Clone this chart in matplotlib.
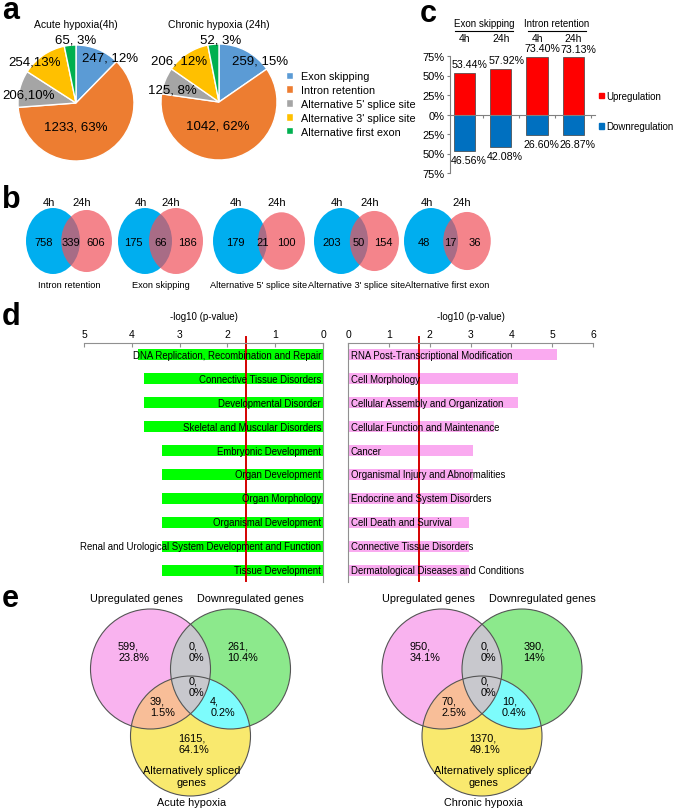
import numpy as np
import matplotlib
matplotlib.use('Agg')
import matplotlib.pyplot as plt
from matplotlib.patches import Ellipse, Circle, Patch

plt.rcParams['font.family'] = ['Liberation Sans', 'DejaVu Sans']

W, H = 675, 812

# ---- data ----
# a: splicing events per type
splice_types = ['Exon skipping', 'Intron retention', "Alternative 5' splice site",
                "Alternative 3' splice site", 'Alternative first exon']
acute_counts = [247, 1233, 206, 254, 65]
chronic_counts = [259, 1042, 125, 206, 52]
acute_labels = ['247, 12%', '1233, 63%', '206,10%', '254,13%', '65, 3%']
chronic_labels = ['259, 15%', '1042, 62%', '125, 8%', '206, 12%', '52, 3%']
pie_titles = ['Acute hypoxia(4h)', 'Chronic hypoxia (24h)']

# b: overlap 4h / 24h
venn_names = ['Intron retention', 'Exon skipping', "Alternative 5' splice site",
              "Alternative 3' splice site", 'Alternative first exon']
only_4h = [758, 175, 179, 203, 48]
shared = [339, 66, 21, 50, 17]
only_24h = [606, 186, 100, 154, 36]

# c: up / down regulation
c_groups = ['Exon skipping', 'Intron retention']
c_times = ['4h', '24h', '4h', '24h']
up_pct = [53.44, 57.92, 73.40, 73.13]
down_pct = [46.56, 42.08, 26.60, 26.87]

# d: enriched functions
acute_terms = ['DNA Replication, Recombination and Repair', 'Connective Tissue Disorders',
               'Developmental Disorder', 'Skeletal and Muscular Disorders',
               'Embryonic Development', 'Organ Development', 'Organ Morphology',
               'Organismal Development', 'Renal and Urological System Development and Function',
               'Tissue Development']
acute_logp = [3.88, 3.75, 3.75, 3.75, 3.37, 3.37, 3.37, 3.37, 3.37, 3.37]
chronic_terms = ['RNA Post-Transcriptional Modification', 'Cell Morphology',
                 'Cellular Assembly and Organization', 'Cellular Function and Maintenance',
                 'Cancer', 'Organismal Injury and Abnormalities', 'Endocrine and System Disorders',
                 'Cell Death and Survival', 'Connective Tissue Disorders',
                 'Dermatological Diseases and Conditions']
chronic_logp = [5.12, 4.16, 4.16, 3.58, 3.07, 3.07, 2.99, 2.97, 2.97, 2.97]
acute_cutoff = 1.62
chronic_cutoff = 1.73

# e: regulated vs spliced genes
e_titles = ['Acute hypoxia', 'Chronic hypoxia']
up_only = [599, 950]
up_down = [0, 0]
down_only = [261, 390]
all_three = [0, 0]
up_spliced = [39, 70]
down_spliced = [4, 10]
spliced_only = [1615, 1370]

# ---- layout helpers ----
fig = plt.figure(figsize=(W / 100, H / 100), dpi=100)


def px_axes(l, t, w, h):
    return fig.add_axes([l / W, 1 - (t + h) / H, w / W, h / H])


canvas = fig.add_axes([0, 0, 1, 1])
canvas.set_xlim(0, W)
canvas.set_ylim(H, 0)
canvas.axis('off')

letter_kw = dict(fontsize=22, fontweight='bold', va='baseline', ha='left')
for letter, x, y in [('a', 2, 19), ('b', 2, 208), ('c', 420, 22), ('d', 2, 325), ('e', 2, 607)]:
    canvas.text(x, y, letter, **letter_kw)

# ---- a: pies ----
pie_colors = ['#5B9BD5', '#ED7D31', '#A5A5A5', '#FFC000', '#00B050']
pie_centers = [(76, 104), (219, 103)]
pie_r = 58
lim = 1.2
label_pos = [
    [(0.59, 0.78), (0.0, -0.40), (-0.81, 0.14), (-0.71, 0.71), (0.0, 1.09)],
    [(0.71, 0.71), (-0.03, -0.40), (-0.81, 0.22), (-0.69, 0.71), (0.03, 1.07)],
]
wedges = None
for k, (counts, labels, title) in enumerate(zip([acute_counts, chronic_counts],
                                               [acute_labels, chronic_labels], pie_titles)):
    cx, cy = pie_centers[k]
    ax = px_axes(cx - lim * pie_r, cy - lim * pie_r, 2 * lim * pie_r, 2 * lim * pie_r)
    w, _ = ax.pie(counts, colors=pie_colors, startangle=90, counterclock=False,
                  wedgeprops=dict(edgecolor='white', linewidth=1))
    if wedges is None:
        wedges = w
    ax.set_xlim(-lim, lim)
    ax.set_ylim(-lim, lim)
    for lab, (lx, ly) in zip(labels, label_pos[k]):
        ax.text(lx, ly, lab, ha='center', va='center', fontsize=9.5, clip_on=False)
    canvas.text(cx, 25, title, ha='center', va='center', fontsize=7.5)

fig.legend(wedges, splice_types, loc='upper left', bbox_to_anchor=(286 / W, 1 - 72 / H),
           frameon=False, fontsize=7.8, handlelength=0.65, handleheight=0.65,
           labelspacing=0.36, handletextpad=0.75, borderpad=0, borderaxespad=0)

# ---- b: two-set venns ----
blue_x = [53, 145, 240, 341, 431]
pink_x = [86.6, 176, 281.5, 374.4, 467]
pink_scale = [0.94, 1.0, 0.87, 0.91, 0.88]
vy = 242
rx, ry = 27, 33
for i in range(5):
    prx, pry = rx * pink_scale[i], ry * pink_scale[i]
    canvas.add_patch(Ellipse((blue_x[i], vy), 2 * rx, 2 * ry, color='#00AEEF', lw=0))
    canvas.add_patch(Ellipse((pink_x[i], vy), 2 * prx, 2 * pry, color='#F0505A', alpha=0.7, lw=0))
    bl, br = blue_x[i] - rx, blue_x[i] + rx
    pl, pr = pink_x[i] - prx, pink_x[i] + prx
    canvas.text((bl + pl) / 2, vy + 1, str(only_4h[i]), ha='center', va='center', fontsize=8)
    canvas.text((pl + br) / 2, vy + 1, str(shared[i]), ha='center', va='center', fontsize=8)
    canvas.text((br + pr) / 2, vy + 1, str(only_24h[i]), ha='center', va='center', fontsize=8)
    canvas.text(blue_x[i] - 4, 203, '4h', ha='center', va='center', fontsize=8)
    canvas.text(pink_x[i] - 5, 203, '24h', ha='center', va='center', fontsize=8)
    canvas.text((bl + pr) / 2, 286, venn_names[i], ha='center', va='center', fontsize=6.7)

# ---- c: up/down bars ----
axc = px_axes(450, 57, 145, 117)
xc = np.arange(4)
axc.bar(xc, up_pct, width=0.58, color='#FF0000', edgecolor='#404040', linewidth=0.5)
axc.bar(xc, [-v for v in down_pct], width=0.58, color='#0070C0', edgecolor='#404040', linewidth=0.5)
axc.set_xlim(-0.4, 3.6)
axc.set_ylim(-75, 75)
axc.set_yticks([-75, -50, -25, 0, 25, 50, 75])
axc.set_yticklabels(['75%', '50%', '25%', '0%', '25%', '50%', '75%'], fontsize=8)
axc.spines['top'].set_visible(False)
axc.spines['right'].set_visible(False)
axc.spines['left'].set_color('gray')
axc.spines['bottom'].set_position(('data', 0))
axc.spines['bottom'].set_color('gray')
axc.set_xticks([0.5, 1.5, 2.5, 3.5])
axc.set_xticklabels([])
axc.tick_params(axis='x', direction='out', length=2, color='gray')
axc.tick_params(axis='y', direction='out', length=2, color='gray', pad=2)
for i in range(4):
    axc.text(xc[i] + 0.15, up_pct[i] + 5, f'{up_pct[i]:.2f}%', ha='center', va='bottom',
             fontsize=7.7, clip_on=False)
    axc.text(xc[i] + 0.12, -down_pct[i] - 5, f'{down_pct[i]:.2f}%', ha='center', va='top',
             fontsize=7.7, clip_on=False)
    axc.text(xc[i], 98, c_times[i], ha='center', va='center', fontsize=7.5, clip_on=False)
for g, name in enumerate(c_groups):
    gx = 2 * g + 0.55
    axc.text(gx, 117, name, ha='center', va='center', fontsize=7, clip_on=False)
    axc.plot([gx - 0.8, gx + 0.8], [107, 107], color='black', lw=0.8, clip_on=False)

fig.legend([Patch(color='#FF0000'), Patch(color='#0070C0')], ['Upregulation', 'Downregulation'],
           loc='upper left', bbox_to_anchor=(599 / W, 1 - 92 / H), frameon=False, fontsize=7,
           handlelength=0.55, handleheight=0.55, labelspacing=2.1, handletextpad=0.2,
           borderpad=0, borderaxespad=0)

# ---- d: enrichment bars ----
axl = px_axes(84, 344, 239, 239)
axr = px_axes(348, 344, 245, 239)
rows = np.arange(10)
axl.barh(rows, acute_logp, height=0.46, color='#00FF00')
axr.barh(rows, chronic_logp, height=0.46, color='#FAAAF0')
axl.set_xlim(5, 0)
axr.set_xlim(0, 6)
for ax, keep in [(axl, ['top', 'right']), (axr, ['top', 'left'])]:
    ax.set_ylim(9.5, -0.5)
    for s in ['top', 'bottom', 'left', 'right']:
        ax.spines[s].set_visible(s in keep)
        ax.spines[s].set_color('#909090')
    ax.xaxis.tick_top()
    ax.tick_params(axis='x', direction='in', length=3, color='#909090', labelsize=7.5, pad=3)
    ax.set_yticks([])
    ax.patch.set_alpha(0)
    ax.text(0.5, 1.113, '-log10 (p-value)', transform=ax.transAxes, ha='center', va='center', fontsize=7)
axl.set_xticks([5, 4, 3, 2, 1, 0])
axr.set_xticks([0, 1, 2, 3, 4, 5, 6])
for i in rows:
    axl.text(0.04, i, acute_terms[i], ha='right', va='center', fontsize=6.9)
    axr.text(0.07, i, chronic_terms[i], ha='left', va='center', fontsize=6.9)
axl.plot([acute_cutoff] * 2, [-0.75, 9.45], color='#D40000', lw=1.4, clip_on=False)
axr.plot([chronic_cutoff] * 2, [-0.75, 9.45], color='#D40000', lw=1.4, clip_on=False)

# ---- e: three-set venns ----
venn_mid = [190.5, 482]
col_pink, col_green, col_yellow = '#F9B3EF', '#8CE98C', '#F9E96E'
col_peach, col_cyan, col_gray = '#F8BE98', '#7DFCFC', '#C8C8CD'
r = 60


def pct(v, tot):
    return f'{round(100 * v / tot, 1):g}%'


for k in range(2):
    mx = venn_mid[k]
    cp, cg, cy_ = (mx - 40, 670), (mx + 40, 670), (mx, 737)
    for c, col in [(cp, col_pink), (cg, col_green), (cy_, col_yellow)]:
        canvas.add_patch(Circle(c, r, color=col, lw=0))
    for base, clip, col in [(cp, cy_, col_peach), (cg, cy_, col_cyan), (cp, cg, col_gray)]:
        patch = Circle(base, r, color=col, lw=0)
        canvas.add_patch(patch)
        patch.set_clip_path(Circle(clip, r, transform=canvas.transData))
    for c in [cp, cg, cy_]:
        canvas.add_patch(Circle(c, r, fill=False, edgecolor='#555555', lw=0.8))

    vals = [up_only[k], up_down[k], down_only[k], all_three[k],
            up_spliced[k], down_spliced[k], spliced_only[k]]
    tot = sum(vals)
    offs = [(-57, -18), (6, -18), (52, -18), (6, 17), (-28, 37.5), (32, 37.5), (3, 74)]
    for v, (dx, dy) in zip(vals, offs):
        canvas.text(mx + dx, 670 + dy, f'{v},\n{pct(v, tot)}', ha='center', va='center',
                    multialignment='left', fontsize=7.8, linespacing=1.15)
    canvas.text(mx + 1, 777, 'Alternatively spliced\ngenes', ha='center', va='center',
                fontsize=7.8, linespacing=1.15)
    canvas.text(mx + 1, 803, e_titles[k], ha='center', va='center', fontsize=7.8)
    canvas.text(mx - 54, 599, 'Upregulated genes', ha='center', va='center', fontsize=7.8)
    canvas.text(mx + 60, 599, 'Downregulated genes', ha='center', va='center', fontsize=7.8)

fig.savefig('out.png', dpi=100)
